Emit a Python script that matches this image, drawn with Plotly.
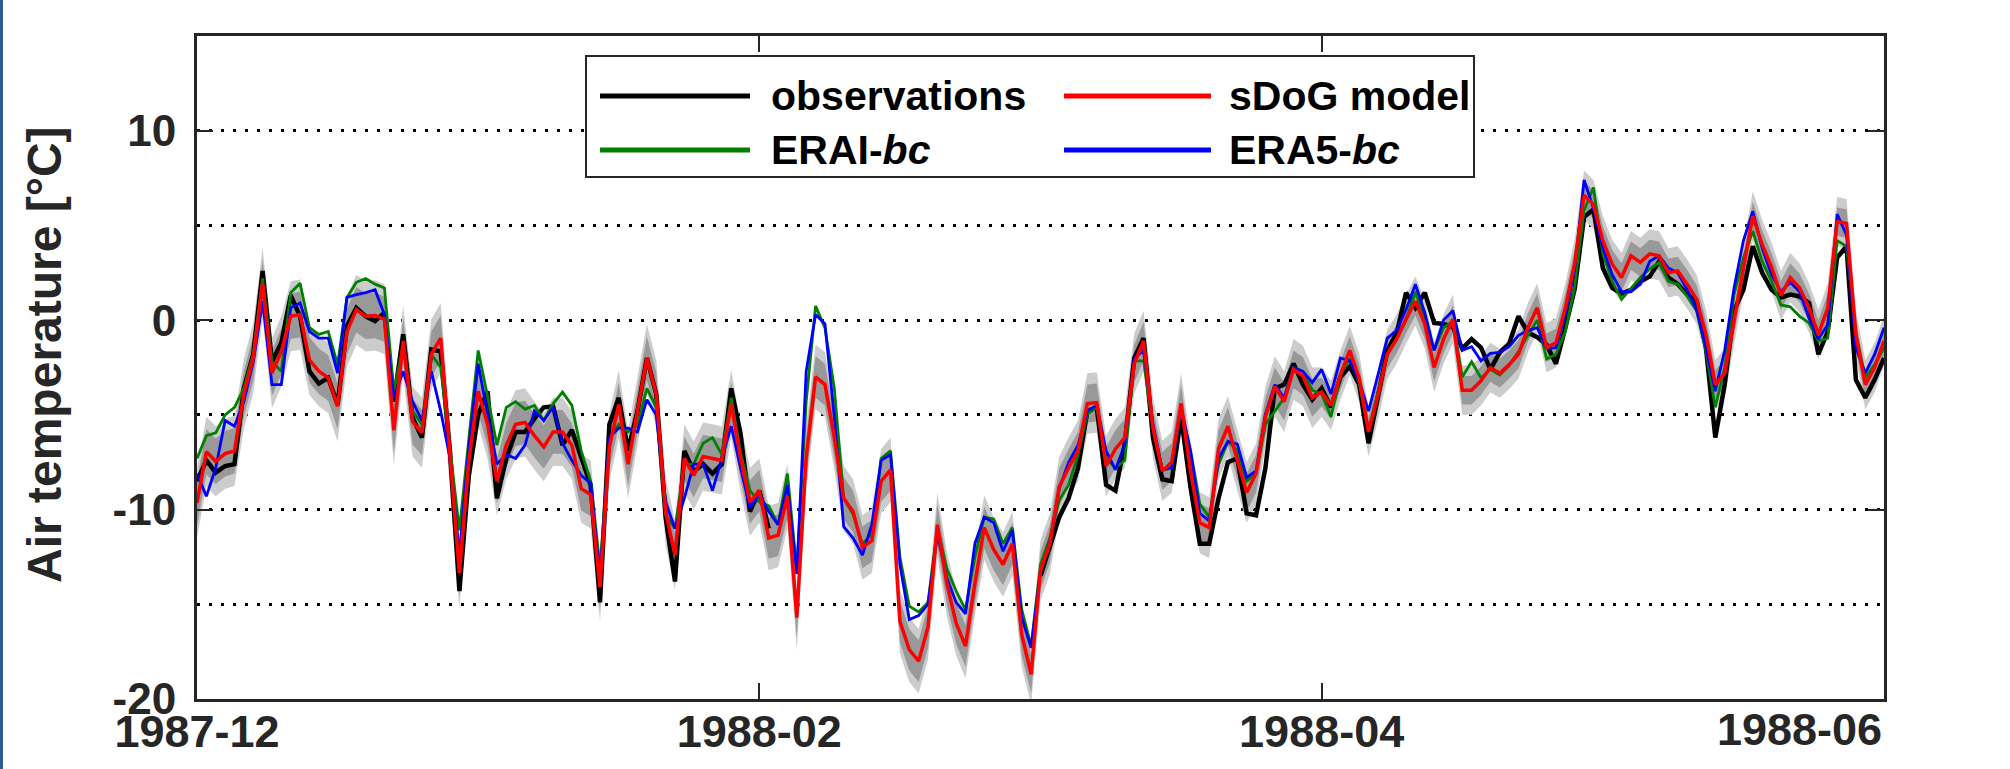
import pandas as pd
import numpy as np
import plotly.graph_objects as go

# ---------------- data (daily, 1987-12-03 .. 1988-05-31) ----------------
start_date = "1987-12-03"

sdog_model = [
    -9.65, -6.95, -7.45, -7.05, -6.9, -3.9, -2.0, 1.97, -2.8, -1.65,      # Dec 3-12
    0.2, 0.3, -2.1, -2.7, -3.05, -4.55, -0.6, 0.55, 0.2, 0.25,            # Dec 13-22
    0.05, -5.8, -1.1, -5.35, -5.95, -1.8, -0.95, -7.3, -13.35, -7.45,     # Dec 23 - Jan 1
    -3.75, -5.5, -8.5, -6.6, -5.5, -5.4, -6.1, -6.7, -5.9, -5.9,          # Jan 2-11
    -6.6, -8.9, -9.2, -14.1, -6.7, -4.45, -7.6, -4.8, -2.0, -3.9,         # Jan 12-21
    -10.1, -12.4, -7.3, -8.2, -7.2, -7.3, -7.4, -4.4, -7.3, -9.6,         # Jan 22-31
    -9.0, -11.5, -11.35, -9.3, -15.7, -7.25, -3.0, -3.4, -6.2, -9.4,      # Feb 1-10
    -10.1, -12.0, -11.65, -8.5, -7.9, -15.9, -17.4, -18.0, -16.2, -10.8,  # Feb 11-20
    -13.9, -16.0, -17.2, -13.9, -10.95, -12.1, -12.9, -11.8, -16.6, -18.7,  # Feb 21 - Mar 1
    -13.2, -11.8, -8.8, -7.8, -6.9, -4.4, -4.35, -7.7, -6.8, -6.2,        # Mar 2-11
    -2.3, -1.1, -5.7, -7.96, -7.5, -4.4, -7.96, -10.7, -10.95, -6.8,      # Mar 12-21
    -5.6, -7.4, -9.1, -8.1, -5.1, -3.5, -4.3, -2.6, -2.95, -4.1,          # Mar 22-31
    -3.8, -4.5, -2.9, -1.6, -3.05, -5.9, -4.0, -1.8, -1.0, 0.05,          # Apr 1-10
    1.0, -0.2, -2.5, -1.0, 0.05, -3.7, -3.7, -3.2, -2.5, -2.8,            # Apr 11-20
    -2.35, -1.8, -0.4, 0.65, -1.45, -1.2, 0.65, 3.0, 6.6, 6.1,            # Apr 21-30
    4.2, 2.95, 2.25, 3.4, 3.05, 3.5, 3.4, 2.5, 2.6, 1.9,                  # May 1-10
    1.1, -0.75, -3.4, -2.8, -0.05, 2.8, 5.5, 4.0, 2.8, 1.3,               # May 11-20
    2.25, 1.7, 0.65, -0.75, 0.65, 5.2, 5.1, -0.75, -3.4, -2.5,            # May 21-30
    -1.1,                                                                  # May 31
]

nan = float("nan")
observations = [
    -8.5, -7.4, -8.05, -7.7, -7.6, -3.6, -1.8, 2.6, -2.2, -1.2,
    1.3, 0.2, -2.7, -3.35, -3.05, -4.45, -0.3, 0.65, 0.2, -0.05,
    0.4, -4.3, -0.75, -5.15, -6.2, -1.55, -1.65, -7.0, -14.3, -8.2,
    -5.0, -3.75, -9.4, -7.3, -5.9, -5.9, -5.2, -4.6, -4.55, -6.6,
    -5.8, -7.3, -8.7, -14.9, -5.5, -4.1, -6.9, -4.8, -2.0, -3.9,
    -10.4, -13.8, -6.9, -8.0, -7.6, -8.1, -7.6, -3.6, -6.0, -10.1,
    -9.0, -11.0, nan, nan, nan, nan, nan, nan, nan, nan,
    nan, nan, nan, nan, nan, nan, nan, nan, nan, nan,
    nan, nan, nan, nan, nan, nan, nan, nan, nan, nan,
    -13.5, -12.0, -10.4, -9.4, -7.8, -4.8, -4.6, -8.7, -9.0, -6.5,
    -2.0, -0.95, -6.2, -8.4, -8.5, -5.1, -8.8, -11.8, -11.8, -9.4,
    -7.5, -7.3, -10.2, -10.3, -7.8, -3.6, -3.4, -2.3, -3.4, -4.2,
    -3.6, -4.6, -3.0, -2.45, -3.4, -6.5, -4.0, -1.6, -0.7, 1.45,
    0.65, 1.45, -0.15, -0.2, -0.35, -1.5, -1.0, -1.45, -2.6, -1.7,
    -1.25, 0.2, -0.65, -0.9, -1.3, -2.3, -0.4, 1.65, 5.45, 5.85,
    2.75, 1.7, 1.4, 1.6, 2.05, 2.3, 3.1, 2.25, 1.9, 1.35,
    1.0, -1.45, -6.2, -3.4, 0.5, 1.6, 3.9, 2.5, 1.6, 1.2,
    1.35, 1.25, 0.9, -1.8, -0.6, 3.3, 3.9, -3.15, -4.1, -3.15,
    -2.0,
]

erai_bc = [
    -7.3, -6.1, -5.95, -5.0, -4.6, -3.6, -1.8, 2.2, -2.2, -2.7,
    1.45, 1.95, -0.4, -0.75, -0.6, -2.35, 1.2, 2.0, 2.2, 1.9,
    1.7, -3.75, -1.3, -4.8, -5.5, -1.8, -2.5, -6.9, -11.1, -6.3,
    -1.6, -4.0, -6.6, -4.6, -4.3, -4.7, -4.5, -5.3, -4.4, -3.8,
    -4.5, -6.9, -8.5, -13.1, -6.3, -5.5, -5.9, -5.6, -3.6, -4.6,
    -10.3, -11.0, -7.6, -7.6, -6.5, -6.2, -7.1, -4.1, -7.0, -9.0,
    -9.6, -9.8, -10.8, -8.1, -13.2, -4.3, 0.75, -0.4, -3.6, -9.4,
    -10.25, -11.8, -11.3, -7.3, -6.9, -12.5, -15.1, -15.4, -14.9, -10.95,
    -13.1, -14.3, -15.3, -12.5, -10.4, -10.5, -11.8, -10.95, -15.3, -17.2,
    -12.9, -11.5, -9.5, -8.7, -7.1, -4.96, -4.6, -7.3, -7.8, -7.4,
    -2.15, -2.15, -5.7, -7.9, -7.8, -4.8, -6.9, -9.7, -10.4, -7.6,
    -6.4, -6.9, -8.5, -8.1, -5.5, -4.8, -4.1, -2.5, -2.7, -3.7,
    -3.9, -5.1, -2.9, -2.0, -3.3, -5.8, -3.8, -1.8, -1.0, 0.0,
    1.5, 0.1, -1.6, -0.4, -0.05, -3.0, -2.2, -3.05, -2.6, -2.9,
    -2.4, -1.65, -0.8, 0.0, -2.05, -1.8, -0.6, 1.8, 5.8, 7.0,
    3.5, 2.05, 1.1, 1.7, 2.25, 2.7, 3.05, 2.05, 1.9, 1.25,
    0.5, -1.6, -4.6, -2.5, 1.35, 3.3, 4.7, 3.1, 2.05, 0.8,
    0.7, 0.2, -0.15, -1.1, -0.95, 4.2, 3.9, -0.75, -3.05, -2.35,
    -1.45,
]

era5_bc = [
    -8.1, -9.3, -7.8, -5.3, -5.6, -4.3, -2.2, 1.0, -3.4, -3.4,
    0.65, 0.9, -0.6, -0.95, -0.95, -2.8, 1.2, 1.35, 1.45, 1.6,
    0.3, -4.1, -2.7, -4.3, -5.3, -2.7, -4.8, -7.3, -12.4, -6.7,
    -2.3, -5.0, -7.6, -7.1, -7.3, -6.6, -4.8, -5.3, -4.6, -6.5,
    -7.4, -8.2, -8.6, -13.6, -6.2, -5.7, -5.7, -5.9, -4.2, -5.0,
    -9.6, -11.0, -9.4, -7.6, -7.6, -9.0, -7.3, -5.6, -7.8, -9.9,
    -9.2, -10.1, -10.8, -8.7, -13.4, -2.7, 0.3, -0.2, -5.1, -10.9,
    -11.5, -12.4, -10.8, -7.4, -7.1, -12.9, -15.8, -15.6, -15.0, -11.3,
    -13.6, -14.9, -15.5, -11.8, -10.4, -10.7, -12.2, -11.1, -15.7, -17.3,
    -13.2, -11.7, -8.9, -7.5, -6.6, -4.8, -4.5, -6.9, -7.9, -6.55,
    -2.0, -1.6, -5.5, -7.9, -7.8, -4.6, -6.9, -10.2, -10.6, -7.3,
    -6.4, -6.55, -8.3, -7.96, -4.96, -3.4, -4.1, -2.5, -2.7, -3.3,
    -2.6, -3.9, -2.0, -2.15, -3.2, -4.8, -2.9, -0.95, -0.55, 0.55,
    1.9, 0.4, -1.6, 0.0, 0.5, -1.6, -1.4, -2.15, -1.75, -1.7,
    -1.4, -0.8, -0.55, -0.4, -1.5, -1.45, 0.3, 2.7, 7.4, 5.9,
    3.8, 2.4, 1.5, 1.5, 1.9, 3.1, 3.4, 2.75, 2.5, 1.6,
    0.55, -1.45, -3.75, -1.6, 1.7, 4.2, 5.75, 3.8, 2.4, 1.5,
    2.0, 1.5, 0.1, -1.0, -0.25, 5.6, 4.5, -1.45, -2.8, -1.8,
    -0.4,
]

# sDoG spread (half-widths of the grey bands, per month Dec..May)
band_months = [12, 1, 2, 3, 4, 5]
outer_halfwidth = [1.85, 1.8, 1.7, 1.6, 1.3, 1.3]
inner_halfwidth = [1.2, 1.15, 1.1, 1.0, 0.75, 0.75]

x_tick_vals = ["1987-12-03", "1988-02-01", "1988-04-01"]
x_tick_text = ["1987-12", "1988-02", "1988-04"]
x_end_label = "1988-06"
y_tick_vals = [-20, -10, 0, 10]
y_tick_text = ["-20", "-10", "0", "10"]
y_minor_vals = [-15, -5, 5]

# ---------------- figure ----------------
dates = pd.date_range(start_date, periods=len(sdog_model), freq="D")
red = np.array(sdog_model)
month_out = dict(zip(band_months, outer_halfwidth))
month_in = dict(zip(band_months, inner_halfwidth))
w_out = np.array([month_out[d.month] for d in dates])
w_in = np.array([month_in[d.month] for d in dates])

AX = "#262626"
FONT = "Liberation Sans, Arial, Helvetica, sans-serif"

fig = go.Figure()

def band(lo, hi, color):
    fig.add_trace(go.Scatter(x=dates, y=lo, mode="lines", line=dict(width=0),
                             hoverinfo="skip", showlegend=False))
    fig.add_trace(go.Scatter(x=dates, y=hi, mode="lines", line=dict(width=0),
                             fill="tonexty", fillcolor=color,
                             hoverinfo="skip", showlegend=False))

band(red - w_out, red + w_out, "#cccccc")
band(red - w_in, red + w_in, "#999999")

fig.add_trace(go.Scatter(x=dates, y=observations, mode="lines", name="observations",
                         line=dict(color="#000000", width=4.5), connectgaps=False,
                         showlegend=False))
fig.add_trace(go.Scatter(x=dates, y=erai_bc, mode="lines", name="ERAI-bc",
                         line=dict(color="#008000", width=2.8), showlegend=False))
fig.add_trace(go.Scatter(x=dates, y=era5_bc, mode="lines", name="ERA5-bc",
                         line=dict(color="#0000ff", width=2.8), showlegend=False))
fig.add_trace(go.Scatter(x=dates, y=sdog_model, mode="lines", name="sDoG model",
                         line=dict(color="#ff0000", width=3.5), showlegend=False))

# plot-area geometry (px) used to place the hand-made legend
W, H = 2010, 769
ML, MR, MT, MB = 197, 126, 36, 70
PW, PH = W - ML - MR, H - MT - MB

def px(x):
    return (x - ML) / PW

def py(y):
    return (H - MB - y) / PH

shapes = []
annotations = []
# legend box
shapes.append(dict(type="rect", xref="paper", yref="paper", layer="above",
                   x0=px(586), x1=px(1474), y0=py(177), y1=py(56),
                   fillcolor="white", line=dict(color=AX, width=2)))
legend_items = [
    ("observations", "#000000", 600, 750, 769, 96),
    ("sDoG model", "#ff0000", 1064, 1211, 1227, 96),
    ("ERAI-<i>bc</i>", "#008000", 600, 750, 769, 150),
    ("ERA5-<i>bc</i>", "#0000ff", 1064, 1211, 1227, 150),
]
for text, color, lx0, lx1, tx, ly in legend_items:
    shapes.append(dict(type="line", xref="paper", yref="paper", layer="above",
                       x0=px(lx0), x1=px(lx1), y0=py(ly), y1=py(ly),
                       line=dict(color=color, width=5)))
    annotations.append(dict(text=text, xref="paper", yref="paper", x=px(tx), y=py(ly),
                            xanchor="left", yanchor="middle", showarrow=False,
                            font=dict(family=FONT, size=41, color="#000000", weight="bold")))

# left frame line of the picture
shapes.append(dict(type="line", xref="paper", yref="paper", layer="above",
                   x0=px(1.5), x1=px(1.5), y0=py(H), y1=py(0),
                   line=dict(color="#2c5d8f", width=3)))

# y-axis title
annotations.append(dict(text="Air temperature [°C]", xref="paper", yref="paper",
                        x=px(45), y=py(355), xanchor="center", yanchor="middle",
                        textangle=-90, showarrow=False,
                        font=dict(family=FONT, size=48, color=AX, weight="bold")))

annotations.append(dict(text=x_end_label, xref="paper", yref="paper", x=1, y=0,
                        xanchor="right", yanchor="top", yshift=-3, showarrow=False,
                        font=dict(family=FONT, size=45, color=AX, weight="bold")))

fig.update_layout(
    width=W, height=H, autosize=False,
    margin=dict(l=ML, r=MR, t=MT, b=MB, autoexpand=False),
    paper_bgcolor="white", plot_bgcolor="white",
    showlegend=False,
    shapes=shapes, annotations=annotations,
    font=dict(family=FONT, color=AX),
)
fig.update_xaxes(
    type="date", range=["1987-12-03", "1988-05-31"],
    tickmode="array", tickvals=x_tick_vals, ticktext=x_tick_text,
    ticks="inside", ticklen=16, tickwidth=2, tickcolor=AX,
    showline=True, linecolor=AX, linewidth=3, mirror="ticks",
    showgrid=False, zeroline=False, automargin=False, ticklabelstandoff=-9,
    tickfont=dict(family=FONT, size=45, color=AX, weight="bold"),
)
fig.update_yaxes(
    range=[-20, 15], tickmode="array", tickvals=y_tick_vals, ticktext=y_tick_text,
    ticks="inside", ticklen=16, tickwidth=2, tickcolor=AX,
    showline=True, linecolor=AX, linewidth=3, mirror="ticks",
    showgrid=True, gridcolor="#000000", gridwidth=2.5, griddash="3px,9px",
    zeroline=False, ticklabelstandoff=9, automargin=False,
    minor=dict(tickmode="array", tickvals=y_minor_vals, showgrid=True,
               gridcolor="#000000", gridwidth=2.5, griddash="3px,9px", ticks=""),
    tickfont=dict(family=FONT, size=44, color=AX, weight="bold"),
)

fig.write_html(
    "out.html",
    config={"displayModeBar": False},
    post_script="document.body.style.margin='0';document.body.style.overflow='hidden';",
)
